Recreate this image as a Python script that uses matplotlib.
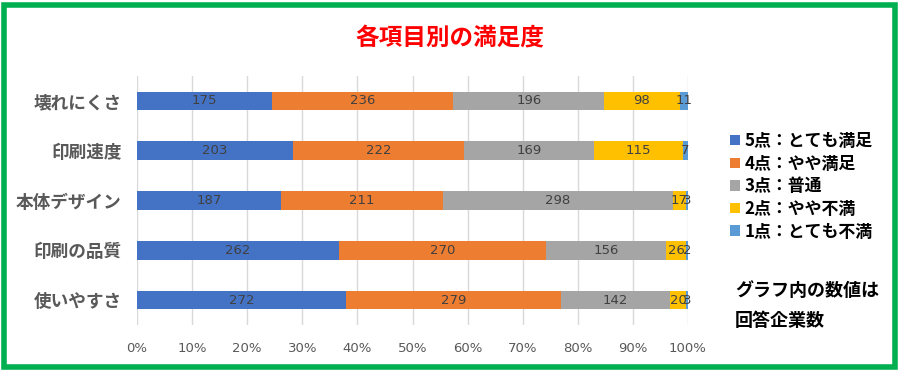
import matplotlib
matplotlib.use("Agg")
import matplotlib.pyplot as plt
from matplotlib.patches import Patch, Rectangle
import numpy as np

plt.rcParams['font.family'] = ['Noto Sans CJK JP', 'DejaVu Sans']

categories = ['壊れにくさ', '印刷速度', '本体デザイン', '印刷の品質', '使いやすさ']
series_names = ['5点：とても満足', '4点：やや満足', '3点：普通', '2点：やや不満', '1点：とても不満']
s5 = [175, 203, 187, 262, 272]
s4 = [236, 222, 211, 270, 279]
s3 = [196, 169, 298, 156, 142]
s2 = [98, 115, 17, 26, 20]
s1 = [11, 7, 3, 2, 3]
colors = ['#4472C4', '#ED7D31', '#A5A5A5', '#FFC000', '#5B9BD5']
xticks = [0, 10, 20, 30, 40, 50, 60, 70, 80, 90, 100]

series = [s5, s4, s3, s2, s1]
data = np.array(series, dtype=float)
totals = data.sum(axis=0)
pct = data / totals * 100

fig = plt.figure(figsize=(9, 3.71), dpi=100)
ax = fig.add_axes([137/900, 46/371, (688-137)/900, 249/371])

y = np.arange(len(categories))
left = np.zeros(len(categories))
for i, (vals, p) in enumerate(zip(series, pct)):
    bars = ax.barh(y, p, left=left, height=0.37, color=colors[i], zorder=3)
    ax.bar_label(bars, labels=[str(v) for v in vals], label_type='center',
                 fontsize=9.5, color='#404040', family=['DejaVu Sans'])
    left += p

ax.set_ylim(4.5, -0.5)
ax.set_xlim(0, 100)
ax.set_xticks(xticks)
ax.set_xticklabels([f'{t}%' for t in xticks], fontsize=9.5, color='#595959', family=['DejaVu Sans'])
ax.set_yticks(y)
ax.set_yticklabels(categories, fontsize=12.7, fontweight='bold', color='#595959')
ax.tick_params(axis='both', length=0)
ax.tick_params(axis='x', pad=12)
ax.tick_params(axis='y', pad=11)
ax.grid(axis='x', color='#D9D9D9', linewidth=1, zorder=0)
for s in ax.spines.values():
    s.set_visible(False)

fig.text(450/900, 1 - 38/371, '各項目別の満足度', ha='center', va='center',
         fontsize=17, fontweight='bold', color='#FF0000')

handles = [Patch(facecolor=c, edgecolor='none') for c in colors]
leg = fig.legend(handles, series_names, loc='upper left', bbox_to_anchor=(715/900, 1 - 117/371),
                 frameon=False, handlelength=0.55, handleheight=0.55,
                 handletextpad=0.3, labelspacing=0.27, prop={'weight': 'bold', 'size': 12.2})

fig.text(735/900, 1 - 290/371, 'グラフ内の数値は', ha='left', va='center', fontsize=13,
         fontweight='bold', color='#000000')
fig.text(735/900, 1 - 320/371, '回答企業数', ha='left', va='center', fontsize=13,
         fontweight='bold', color='#000000')

fig.patches.append(Rectangle((4/900, 4/371), 891/900, 362/371, transform=fig.transFigure,
                             fill=False, edgecolor='#00B050', linewidth=4))

fig.savefig('out.png', dpi=100)
